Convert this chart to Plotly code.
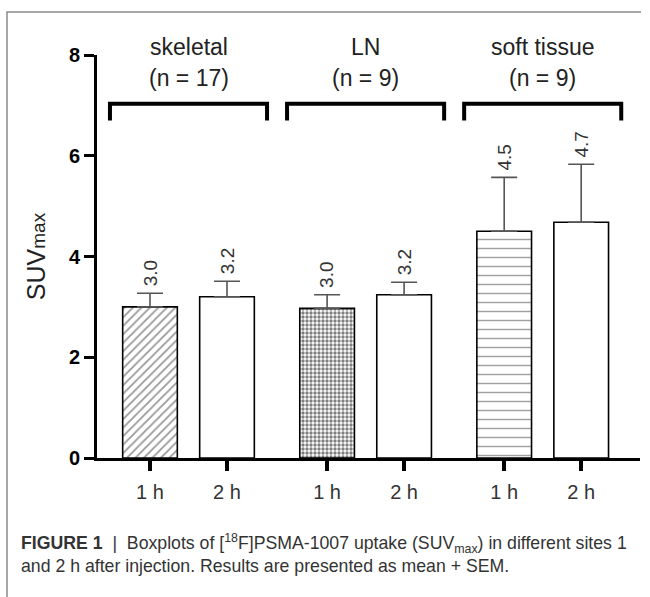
import plotly.graph_objects as go

# ---- data ----
groups = ["skeletal", "LN", "soft tissue"]
group_n = ["(n = 17)", "(n = 9)", "(n = 9)"]
times = ["1 h", "2 h"]
means = [3.0, 3.2, 2.97, 3.24, 4.5, 4.68]
sems = [0.27, 0.31, 0.27, 0.25, 1.07, 1.15]
value_labels = ["3.0", "3.2", "3.0", "3.2", "4.5", "4.7"]
y_ticks = [0, 2, 4, 6, 8]

GROUP_STEP = 2.3
xpos = [g * GROUP_STEP + t for g in range(len(groups)) for t in range(len(times))]
xtext = [t for g in groups for t in times]

FONT = "Liberation Sans Narrow, Arial Narrow, Liberation Sans, Arial, sans-serif"

patterns = ["/", "", ".", "", "-", ""]
pat_fg = ["#333333", "#000000", "#000000", "#000000", "#444444", "#000000"]
pat_size = [6, 8, 4, 8, 9, 8]
pat_sol = [0.3, 0.3, 0.55, 0.3, 0.16, 0.3]

fig = go.Figure()
fig.add_trace(go.Bar(
    x=xpos, y=means, width=0.71,
    marker=dict(color="white", line=dict(color="black", width=1.6),
                pattern=dict(shape=patterns, fgcolor=pat_fg, bgcolor="white",
                             size=pat_size, solidity=pat_sol, fillmode="overlay")),
    error_y=dict(type="data", symmetric=False, array=sems, arrayminus=[0] * len(sems),
                 color="#555555", thickness=1.6, width=13),
    showlegend=False, hoverinfo="skip",
))

# value labels (rotated)
for x, m, s, lab in zip(xpos, means, sems, value_labels):
    fig.add_annotation(x=x, y=m + s, text=lab, textangle=-90, showarrow=False,
                       xanchor="center", yanchor="bottom", yshift=5,
                       font=dict(family=FONT, size=19, color="#333333"))

# group headers and brackets
for g, (name, n) in enumerate(zip(groups, group_n)):
    cx = g * GROUP_STEP + 0.5
    fig.add_annotation(x=cx, y=1.0, yref="paper", text=name, showarrow=False,
                       yanchor="middle", yshift=8,
                       font=dict(family=FONT, size=23, color="#222222"))
    fig.add_annotation(x=cx, y=1.0, yref="paper", text=n, showarrow=False,
                       yanchor="middle", yshift=-23,
                       font=dict(family=FONT, size=23, color="#222222"))
    x0, x1 = cx - 1.02, cx + 1.02
    fig.add_shape(type="path", xref="x", yref="y",
                  path=f"M {x0} 6.7 L {x0} 7.03 L {x1} 7.03 L {x1} 6.7",
                  line=dict(color="black", width=4))

PW, PH, L, T = 543, 403, 97, 55
def px(xp): return (xp - L) / PW
def py(yp): return (T + PH - yp) / PH

# outer frame (left and top edges)
fig.add_shape(type="path", xref="paper", yref="paper",
              path=f"M {px(7)} {py(600)} L {px(7)} {py(12)} L {px(641)} {py(12)}",
              line=dict(color="#8a8a8a", width=1.5))

# caption
fig.add_annotation(
    x=px(19), y=py(553), xref="paper", yref="paper", xanchor="left", yanchor="middle",
    align="left", showarrow=False,
    text=("<b>FIGURE 1</b>  |  Boxplots of [<sup>18</sup>F]PSMA-1007 uptake (SUV<sub>max</sub>) in different sites 1"
          "<br>and 2 h after injection. Results are presented as mean + SEM."),
    font=dict(family=FONT, size=17.7, color="#333333"))

fig.update_layout(
    width=650, height=597,
    margin=dict(l=L, r=650 - L - PW, t=T, b=597 - T - PH, pad=0),
    paper_bgcolor="white", plot_bgcolor="white",
    font=dict(family=FONT),
    xaxis=dict(range=[(97 - 150) / 77, (640 - 150) / 77],
               tickvals=xpos, ticktext=xtext, ticks="outside", ticklen=10, tickwidth=4,
               tickcolor="black", showline=True, linecolor="black", linewidth=3,
               showgrid=False, zeroline=False, ticklabelstandoff=4,
               tickfont=dict(family=FONT, size=20, color="#333333")),
    yaxis=dict(range=[0, 8], tickvals=y_ticks, ticks="outside", ticklen=10, tickwidth=3,
               tickcolor="black", showline=True, linecolor="black", linewidth=3,
               showgrid=False, zeroline=False,
               tickfont=dict(family="Liberation Sans, Arial, sans-serif", size=20,
                             color="black", weight="bold"),
               title=dict(text="SUV<span style='font-size:19px'>max</span>",
                          font=dict(family=FONT, size=25, color="#222222"), standoff=17)),
)

fig.write_html("out.html", config={"displayModeBar": False},
               post_script="document.body.style.margin='0';")
